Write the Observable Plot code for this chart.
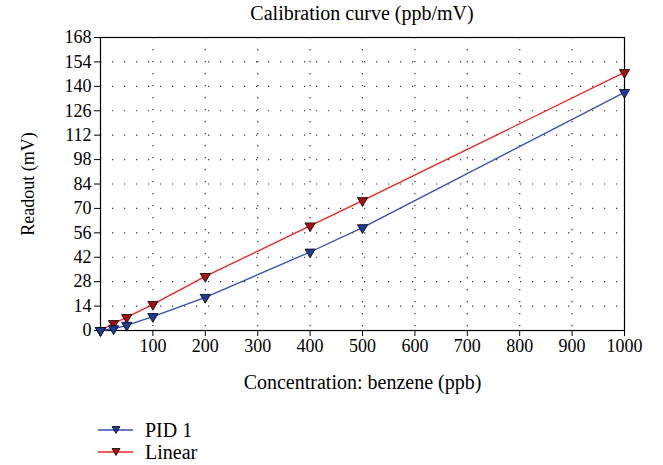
<!DOCTYPE html>
<html>
<head>
<meta charset="utf-8">
<script src="https://cdn.jsdelivr.net/npm/d3@7"></script>
<script src="https://cdn.jsdelivr.net/npm/@observablehq/plot@0.6"></script>
<style>
  body { margin: 0; background: white; font-family: "Times New Roman", Times, "Liberation Serif", "DejaVu Serif", serif; }
  #wrap { position: relative; width: 663px; height: 465px; }
  #title { position: absolute; top: 2px; left: 100px; width: 524px; text-align: center; font-size: 20px; }
  #chart { position: absolute; top: 0; left: 0; }
  #legend { position: absolute; top: 419px; left: 96px; font-size: 20px; }
  .row { display: flex; align-items: center; height: 22px; }
  .row span { margin-left: 11px; }
  svg text { font-family: "Times New Roman", Times, "Liberation Serif", "DejaVu Serif", serif; }
</style>
</head>
<body>
<div id="wrap">
  <div id="chart"></div>
  <div id="title">Calibration curve (ppb/mV)</div>
  <div id="legend"></div>
</div>
<script>
const concentration = [0, 25, 50, 100, 200, 400, 500, 1000];
const pid1 = [0, 1, 3, 8, 19, 45, 59, 136.5];
const linear = [0, 4, 7.5, 15, 31, 60, 74.5, 148];
const xTicks = [100, 200, 300, 400, 500, 600, 700, 800, 900, 1000];
const yTicks = [0, 14, 28, 42, 56, 70, 84, 98, 112, 126, 140, 154, 168];
const seriesNames = ["PID 1", "Linear"];
const lineColors = ["#3050b0", "#ee2020"];
const markerFills = ["#1e3a9a", "#a81010"];

const seriesValues = [pid1, linear];
const data = [];
seriesNames.forEach((s, i) => concentration.forEach((c, j) => data.push({series: s, x: c, y: seriesValues[i][j]})));

const gridStyle = {stroke: "#333", strokeOpacity: 1, strokeWidth: 1.2, strokeDasharray: "1.2,10.8"};
const fam = "'Times New Roman', Times, 'Liberation Serif', 'DejaVu Serif', serif";

const plot = Plot.plot({
  width: 663,
  height: 400,
  marginLeft: 100,
  marginRight: 39,
  marginTop: 37,
  marginBottom: 70,
  style: {fontFamily: fam, fontSize: "18px", color: "#000", background: "white"},
  x: {domain: [0, 1000]},
  y: {domain: [0, 168]},
  marks: [
    Plot.gridX([0, ...xTicks], gridStyle),
    Plot.gridY(yTicks, gridStyle),
    Plot.frame({stroke: "#000", strokeWidth: 1.2}),
    Plot.axisX(xTicks, {tickSize: 6, tickPadding: 3, tickFormat: d => String(d), label: null, fontSize: 18}),
    Plot.axisX({ticks: [], label: "Concentration: benzene (ppb)", labelAnchor: "center", labelArrow: "none", labelOffset: 58, fontSize: 20}),
    Plot.axisY(yTicks, {tickSize: 6, tickPadding: 3, label: null, fontSize: 18}),
    Plot.axisY({ticks: [], label: "Readout (mV)", labelAnchor: "center", labelArrow: "none", labelOffset: 79, fontSize: 18}),
    ...seriesNames.map((s, i) => Plot.line(data.filter(d => d.series === s), {x: "x", y: "y", stroke: lineColors[i], strokeWidth: 1.3})),
    ...seriesNames.slice().reverse().map((s) => {
      const i = seriesNames.indexOf(s);
      return Plot.dot(data.filter(d => d.series === s), {x: "x", y: "y", symbol: "triangle", rotate: 180, r: 3.8, fill: markerFills[i], stroke: "#000", strokeWidth: 0.8});
    })
  ]
});
document.getElementById("chart").appendChild(plot);

const legend = document.getElementById("legend");
seriesNames.forEach((s, i) => {
  const row = document.createElement("div");
  row.className = "row";
  row.innerHTML = `<svg width="38" height="12"><line x1="2" x2="37" y1="6" y2="6" stroke="${lineColors[i]}" stroke-width="1.3"/><path d="M16,2.5 L24,2.5 L20,9.5 Z" fill="${markerFills[i]}" stroke="#000" stroke-width="0.8"/></svg><span>${s}</span>`;
  legend.appendChild(row);
});
</script>
</body>
</html>
